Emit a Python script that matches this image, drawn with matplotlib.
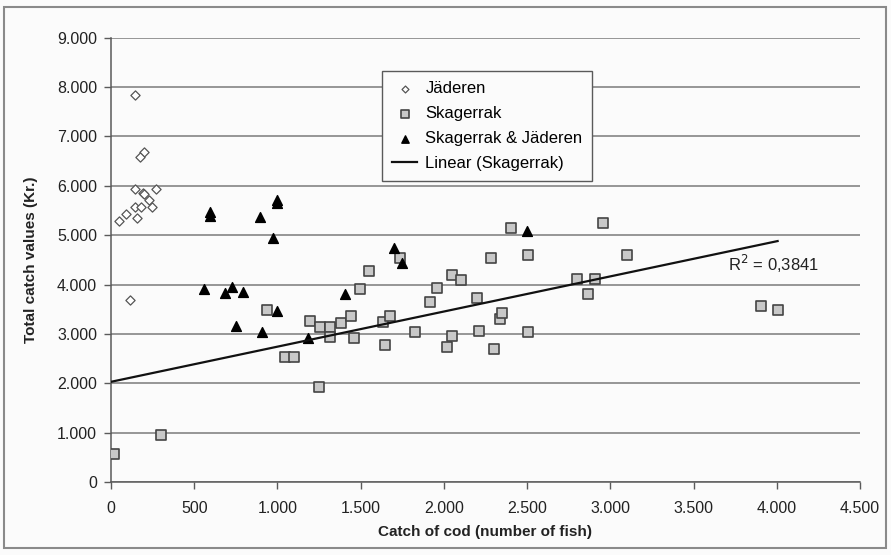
import matplotlib.pyplot as plt
import matplotlib.ticker as mticker
from matplotlib.patches import Rectangle
import numpy as np

plt.rcParams['font.family'] = ['Liberation Sans', 'DejaVu Sans']

# Jaederen (open diamonds)
jad_x = [144, 197, 173, 146, 195, 199, 269, 227, 146, 182, 247, 88, 48, 158, 116]
jad_y = [7845, 6691, 6577, 5929, 5854, 5830, 5941, 5706, 5577, 5564, 5564, 5429, 5293, 5348, 3693]

# Skagerrak (grey squares)
sk_x = [20, 299, 937, 1047, 1101, 1197, 1247, 1257, 1318, 1318, 1382, 1440, 1458,
        1498, 1548, 1634, 1648, 1679, 1739, 1829, 1919, 1960, 2020, 2050, 2050,
        2100, 2200, 2212, 2282, 2300, 2340, 2350, 2403, 2503, 2503, 2802, 2865,
        2906, 2954, 3102, 3904, 4005]
sk_y = [561, 952, 3477, 2526, 2539, 3261, 1931, 3146, 3146, 2931, 3227, 3362, 2910,
        3909, 4281, 3247, 2775, 3362, 4531, 3045, 3652, 3923, 2728, 4193, 2964,
        4092, 3733, 3065, 4544, 2688, 3302, 3430, 5139, 4591, 3040, 4112, 3808,
        4112, 5253, 4591, 3571, 3484]

# Skagerrak & Jaederen (black triangles)
both_x = [558, 597, 597, 686, 726, 752, 796, 896, 908, 973, 997, 997, 1000, 1181,
          1408, 1699, 1749, 2501]
both_y = [3909, 5475, 5394, 3822, 3956, 3160, 3855, 5374, 3032, 4949, 5712, 5645,
          3470, 2910, 3808, 4733, 4442, 5084]

r2_label = 'R$^2$ = 0,3841'

fig = plt.figure(figsize=(8.91, 5.55), dpi=100)
fig.patch.set_facecolor('#fbfbfb')
ax = fig.add_axes([111 / 891, 1 - 482 / 555, 749 / 891, (482 - 37.7) / 555])
ax.set_facecolor('#fbfbfb')

# outer frame of the chart
fig.patches.append(Rectangle((4 / 891, 7 / 555), 882 / 891, 541 / 555,
                             transform=fig.transFigure, fill=False,
                             edgecolor='#8a8a8a', linewidth=1.5))

ax.set_xlim(0, 4500)
ax.set_ylim(0, 9000)
ax.set_xticks(np.arange(0, 4501, 500))
ax.set_yticks(np.arange(0, 9001, 1000))
fmt = mticker.FuncFormatter(lambda v, p: f'{int(v):,}'.replace(',', '.'))
ax.xaxis.set_major_formatter(fmt)
ax.yaxis.set_major_formatter(fmt)

ax.grid(axis='y', color='#7a7a7a', linewidth=1.1)
ax.set_axisbelow(True)
for s in ['top', 'right']:
    ax.spines[s].set_visible(False)
for s in ['left', 'bottom']:
    ax.spines[s].set_color('#5a5a5a')
    ax.spines[s].set_linewidth(1.1)
ax.tick_params(direction='out', length=5, width=1, color='#5a5a5a',
               labelsize=11.5, labelcolor='#222222', pad=5)
ax.tick_params(axis='x', pad=9)

ax.scatter(jad_x, jad_y, marker='D', s=22, facecolor='white', edgecolor='#555555',
           linewidth=0.9, label='Jäderen', zorder=3)
ax.scatter(sk_x, sk_y, marker='s', s=50, facecolor='#c8c8c8', edgecolor='#444444',
           linewidth=1.2, label='Skagerrak', zorder=3)
ax.scatter(both_x, both_y, marker='^', s=50, facecolor='black', edgecolor='black',
           label='Skagerrak & Jäderen', zorder=4)

# linear trend for Skagerrak
coef = np.polyfit(sk_x, sk_y, 1)
tx = np.array([0, max(sk_x)])
ax.plot(tx, np.polyval(coef, tx), color='#111111', linewidth=1.6,
        label='Linear (Skagerrak)', zorder=5)
ax.text(3706, 4416, r2_label, fontsize=12, va='center', ha='left', color='#222222')

ax.set_xlabel('Catch of cod (number of fish)', fontsize=11, fontweight='bold',
              color='#222222', labelpad=6)
ax.set_ylabel('Total catch values (Kr.)', fontsize=11, fontweight='bold',
              color='#222222', labelpad=14)

leg = ax.legend(loc='upper left', bbox_to_anchor=(382 / 891, 1 - 71 / 555),
                bbox_transform=fig.transFigure, fontsize=12, fancybox=False,
                framealpha=1, edgecolor='#5a5a5a', handlelength=1.5,
                handletextpad=0.5, borderpad=0.6, labelspacing=0.6,
                borderaxespad=0, markerscale=0.75)
leg.get_frame().set_linewidth(1.0)
leg.get_frame().set_facecolor('#fbfbfb')

fig.savefig('out.png', dpi=100, facecolor=fig.get_facecolor())
